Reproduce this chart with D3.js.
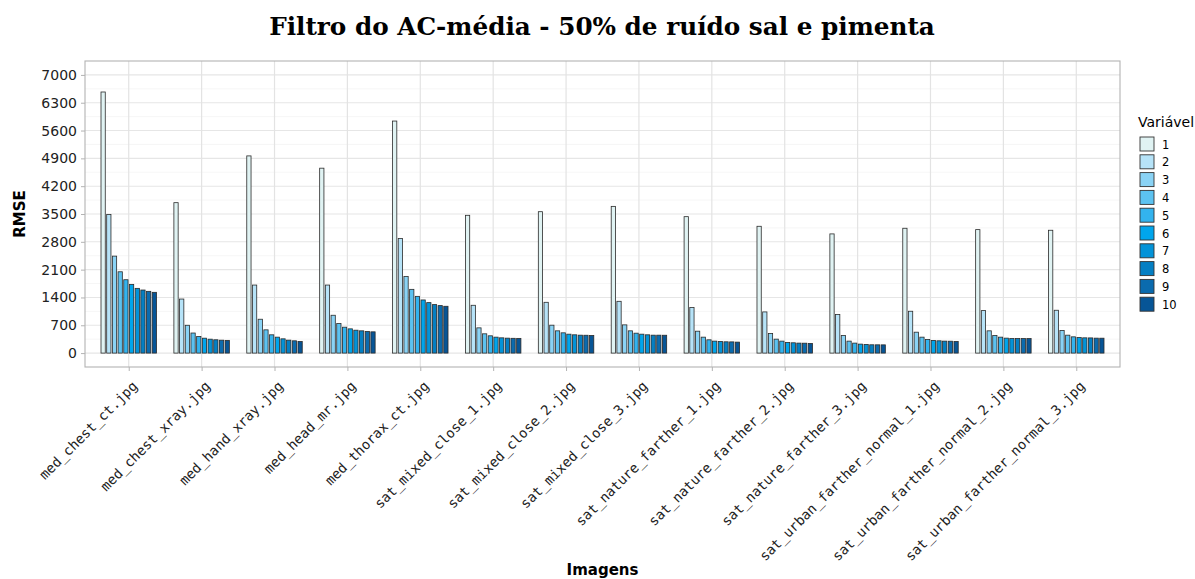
<!DOCTYPE html>
<html>
<head>
<meta charset="utf-8">
<script src="https://cdn.jsdelivr.net/npm/d3@7"></script>
<style>
  html, body { margin: 0; padding: 0; background: #fff; }
  svg { display: block; }
</style>
</head>
<body>
<svg id="chart" width="1195" height="579"></svg>
<script>
// Images evaluated
const images = [
  "med_chest_ct.jpg", "med_chest_xray.jpg", "med_hand_xray.jpg", "med_head_mr.jpg",
  "med_thorax_ct.jpg", "sat_mixed_close_1.jpg", "sat_mixed_close_2.jpg", "sat_mixed_close_3.jpg",
  "sat_nature_farther_1.jpg", "sat_nature_farther_2.jpg", "sat_nature_farther_3.jpg",
  "sat_urban_farther_normal_1.jpg", "sat_urban_farther_normal_2.jpg", "sat_urban_farther_normal_3.jpg"
];

// Filter parameter levels (legend "Variável")
const variables = ["1", "2", "3", "4", "5", "6", "7", "8", "9", "10"];

// RMSE per image, one entry per variable level 1..10
const rmse = [
  [6570, 3490, 2440, 2046, 1846, 1729, 1629, 1587, 1554, 1529],
  [3785, 1360, 700, 505, 418, 375, 350, 335, 325, 320],
  [4962, 1712, 852, 585, 460, 401, 359, 326, 309, 292],
  [4653, 1712, 952, 744, 652, 610, 576, 560, 543, 535],
  [5839, 2882, 1930, 1604, 1428, 1337, 1270, 1220, 1195, 1178],
  [3467, 1203, 635, 485, 435, 401, 384, 376, 372, 370],
  [3558, 1278, 702, 560, 510, 476, 460, 451, 449, 443],
  [3692, 1303, 710, 560, 501, 476, 460, 451, 451, 449],
  [3433, 1145, 551, 401, 334, 301, 292, 284, 282, 276],
  [3191, 1036, 493, 351, 301, 267, 259, 251, 249, 242],
  [2999, 969, 443, 301, 251, 226, 217, 209, 208, 207],
  [3141, 1053, 526, 401, 342, 318, 309, 301, 299, 292],
  [3107, 1069, 560, 443, 401, 376, 367, 366, 365, 365],
  [3091, 1078, 568, 451, 409, 392, 384, 382, 376, 375]
];

// Y axis breaks
const yTicks = [0, 700, 1400, 2100, 2800, 3500, 4200, 4900, 5600, 6300, 7000];

// Fill colours for variable levels
const palette = ["#e0f3f3", "#b6e3f8", "#8ad3f5", "#5cc2f0", "#33b3ee",
                 "#00a5ec", "#0393d8", "#047fc3", "#0b6bae", "#075596"];

const svg = d3.select("#chart");
const panel = { left: 85, right: 1120, top: 61, bottom: 367 };

const x = d3.scalePoint().domain(images).range([panel.left, panel.right]).padding(0.6);
const groupW = x.step() * 0.8;
const xInner = d3.scaleBand().domain(variables).range([-groupW / 2, groupW / 2]).padding(0.25);
const y = d3.scaleLinear().domain([-350, 7350]).range([panel.bottom, panel.top]);
const color = d3.scaleOrdinal().domain(variables).range(palette);

// Panel background and grid
const g = svg.append("g");
g.append("rect")
  .attr("x", panel.left).attr("y", panel.top)
  .attr("width", panel.right - panel.left).attr("height", panel.bottom - panel.top)
  .attr("fill", "#fff");

const minor = yTicks.slice(0, -1).map(v => v + 350);
g.selectAll(".minor").data(minor).join("line")
  .attr("x1", panel.left).attr("x2", panel.right)
  .attr("y1", d => y(d)).attr("y2", d => y(d))
  .attr("stroke", "#f0f0f0").attr("stroke-width", 0.6);
g.selectAll(".major").data(yTicks).join("line")
  .attr("x1", panel.left).attr("x2", panel.right)
  .attr("y1", d => y(d)).attr("y2", d => y(d))
  .attr("stroke", "#e6e6e6").attr("stroke-width", 1.1);
g.selectAll(".vgrid").data(images).join("line")
  .attr("x1", d => x(d)).attr("x2", d => x(d))
  .attr("y1", panel.top).attr("y2", panel.bottom)
  .attr("stroke", "#e3e3e3").attr("stroke-width", 1.2);

// Bars
const rows = images.map((img, i) => ({ img, vals: rmse[i] }));
const groups = svg.append("g").selectAll("g").data(rows).join("g")
  .attr("transform", d => `translate(${x(d.img)},0)`);
groups.selectAll("rect").data(d => d.vals.map((v, j) => ({ v, key: variables[j] })))
  .join("rect")
  .attr("x", d => xInner(d.key))
  .attr("width", xInner.bandwidth())
  .attr("y", d => y(d.v))
  .attr("height", d => y(0) - y(d.v))
  .attr("fill", d => color(d.key))
  .attr("stroke", "#2a2a2a")
  .attr("stroke-width", 0.8);

// Panel border
svg.append("rect")
  .attr("x", panel.left).attr("y", panel.top)
  .attr("width", panel.right - panel.left).attr("height", panel.bottom - panel.top)
  .attr("fill", "none").attr("stroke", "#b3b3b3").attr("stroke-width", 1.1);

// Y axis
const yAxis = svg.append("g")
  .attr("transform", `translate(${panel.left},0)`)
  .call(d3.axisLeft(y).tickValues(yTicks).tickSize(4).tickPadding(4).tickFormat(d3.format("d")));
yAxis.select(".domain").remove();
yAxis.selectAll(".tick line").attr("stroke", "#b3b3b3");
yAxis.selectAll(".tick text")
  .attr("font-family", "DejaVu Sans").attr("font-size", 14).attr("fill", "#222");

// X axis
const xAxis = svg.append("g")
  .attr("transform", `translate(0,${panel.bottom})`)
  .call(d3.axisBottom(x).tickSize(4).tickSizeOuter(0).tickFormat(d => d));
xAxis.select(".domain").remove();
xAxis.selectAll(".tick line").attr("stroke", "#b3b3b3");
xAxis.selectAll(".tick text")
  .attr("font-family", "DejaVu Sans Mono").attr("font-size", 13.7).attr("fill", "#222")
  .attr("text-anchor", "end")
  .attr("x", 0).attr("y", 0).attr("dy", 0)
  .attr("transform", "translate(9,20) rotate(-45)");

// Axis titles
svg.append("text")
  .attr("x", (panel.left + panel.right) / 2).attr("y", 575)
  .attr("text-anchor", "middle")
  .attr("font-family", "DejaVu Sans").attr("font-weight", "bold").attr("font-size", 15)
  .attr("fill", "#000").text("Imagens");
svg.append("text")
  .attr("transform", `translate(25,${(panel.top + panel.bottom) / 2}) rotate(-90)`)
  .attr("text-anchor", "middle")
  .attr("font-family", "DejaVu Sans").attr("font-weight", "bold").attr("font-size", 15)
  .attr("fill", "#000").text("RMSE");

// Title
svg.append("text")
  .attr("x", 602).attr("y", 35)
  .attr("text-anchor", "middle")
  .attr("font-family", "DejaVu Serif").attr("font-weight", "bold").attr("font-size", 24.7)
  .attr("fill", "#000").text("Filtro do AC-média - 50% de ruído sal e pimenta");

// Legend
const legend = svg.append("g").attr("transform", "translate(1138,0)");
legend.append("text")
  .attr("x", 0).attr("y", 127)
  .attr("font-family", "DejaVu Sans").attr("font-size", 14).attr("fill", "#000")
  .text("Variável");
const items = legend.selectAll(".item").data(variables).join("g")
  .attr("transform", (d, i) => `translate(0,${137 + i * 17.8})`);
items.append("rect")
  .attr("x", 2).attr("y", 0).attr("width", 14).attr("height", 14)
  .attr("fill", d => color(d)).attr("stroke", "#333").attr("stroke-width", 0.9);
items.append("text")
  .attr("x", 24).attr("y", 11.5)
  .attr("font-family", "DejaVu Sans").attr("font-size", 11.5).attr("fill", "#000")
  .text(d => d);
</script>
</body>
</html>
